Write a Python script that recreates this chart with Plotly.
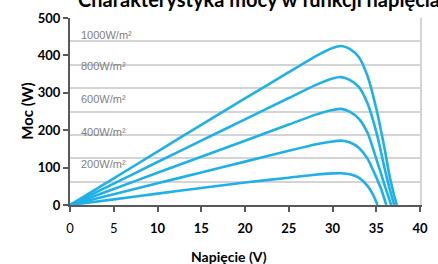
import plotly.graph_objects as go

# ---- data ----
v_1000 = [0, 5, 10, 15, 20, 25, 28, 30, 31, 32, 33, 34, 35, 36, 36.5, 37, 37.35]
p_1000 = [0, 71, 143, 214, 285, 355, 397, 420, 425, 417, 396, 345, 258, 145, 80, 30, 0]

v_800 = [0, 5, 10, 15, 20, 25, 28, 30, 31, 32, 33, 34, 35, 36, 36.5, 37.05]
p_800 = [0, 57, 115, 172, 229, 286, 320, 338, 342, 334, 316, 272, 196, 94, 46, 0]

v_600 = [0, 5, 10, 15, 20, 25, 28, 30, 31, 32, 33, 34, 35, 36, 36.7]
p_600 = [0, 43, 86, 129, 172, 215, 241, 254, 257, 249, 231, 193, 124, 50, 0]

v_400 = [0, 5, 10, 15, 20, 25, 28, 30, 31, 32, 33, 34, 35, 35.6, 36.15]
p_400 = [0, 29, 58, 87, 116, 145, 162, 170, 172, 167, 153, 124, 74, 40, 0]

v_200 = [0, 5, 10, 15, 20, 25, 28, 30, 31, 32, 33, 34, 34.6, 35.15]
p_200 = [0, 15, 30.5, 45.5, 60, 73, 81, 84.5, 85, 82, 73, 51, 29, 0]

series = [(v_1000, p_1000), (v_800, p_800), (v_600, p_600), (v_400, p_400), (v_200, p_200)]

label_texts = ["1000W/m²", "800W/m²", "600W/m²", "400W/m²", "200W/m²"]
label_y = [454, 371, 283, 196, 109]
label_x = 1.05

x_tickvals = [0, 5, 10, 15, 20, 25, 30, 35, 40]
x_ticktext = ["0", "5", "<b>10</b>", "<b>15</b>", "<b>20</b>", "<b>25</b>", "<b>30</b>", "<b>35</b>", "<b>40</b>"]
y_tickvals = [0, 100, 200, 300, 400, 500]
y_ticktext = ["<b>0</b>", "<b>100</b>", "<b>200</b>", "<b>300</b>", "<b>400</b>", "<b>500</b>"]

title_text = "Charakterystyka mocy w funkcji napięcia"
x_title = "Napięcie (V)"
y_title = "Moc (W)"

LINE = "#1FB0E6"
FONT = "Lato"

fig = go.Figure()
for v, p in series:
    fig.add_trace(go.Scatter(x=v, y=p, mode="lines",
                             line=dict(color=LINE, width=2.6, shape="spline", smoothing=0.6),
                             showlegend=False, hoverinfo="skip"))

# invisible trace on overlay axes for the 62.5-step grid
fig.add_trace(go.Scatter(x=[0], y=[0], xaxis="x", yaxis="y2", mode="markers",
                         marker=dict(opacity=0), showlegend=False, hoverinfo="skip"))

for t, y in zip(label_texts, label_y):
    fig.add_annotation(x=label_x, y=y, text=t, showarrow=False, xanchor="left", yanchor="middle",
                       font=dict(family="Liberation Sans", size=11, color="#808080"))

fig.add_annotation(xref="paper", yref="paper", x=0.54, y=1.026, text="<b>" + title_text + "</b>",
                   showarrow=False, xanchor="center", yanchor="bottom",
                   font=dict(family=FONT, size=20, color="#000000"))
fig.add_annotation(xref="paper", yref="paper", x=0.455, y=-0.277, text="<b>" + x_title + "</b>",
                   showarrow=False, xanchor="center", yanchor="middle",
                   font=dict(family=FONT, size=14, color="#000000"))
fig.add_annotation(xref="paper", yref="paper", x=-0.125, y=0.5, text="<b>" + y_title + "</b>",
                   showarrow=False, xanchor="center", yanchor="middle", textangle=-90,
                   font=dict(family=FONT, size=15, color="#000000"))

fig.update_layout(
    width=438, height=264,
    margin=dict(l=70, r=10, t=14, b=59),
    paper_bgcolor="white", plot_bgcolor="white",
    font=dict(family=FONT, size=13, color="#000000"),
    xaxis=dict(range=[0, 40], tickvals=x_tickvals, ticktext=x_ticktext,
               showgrid=False, zeroline=False, showline=True, linecolor="#595959", linewidth=2,
               ticks="outside", ticklen=5, tickwidth=1.5, tickcolor="#595959",
               ticklabelstandoff=5, tickfont=dict(size=13)),
    yaxis=dict(range=[0, 500], tickvals=y_tickvals, ticktext=y_ticktext,
               showgrid=False, zeroline=False, showline=True, linecolor="#595959", linewidth=2,
               ticks="outside", ticklen=5, tickwidth=1.5, tickcolor="#595959",
               tickfont=dict(size=13)),
    yaxis2=dict(range=[0, 500], dtick=62.5, overlaying="y", side="right",
                showticklabels=False, ticks="", showgrid=True, gridcolor="#D4D4D4", gridwidth=1.5,
                zeroline=False, showline=True, linecolor="#D4D4D4", linewidth=1.5),
)

fig.write_html("out.html", config={"displayModeBar": False},
               post_script="document.body.style.margin='0';document.body.style.overflow='hidden';")
